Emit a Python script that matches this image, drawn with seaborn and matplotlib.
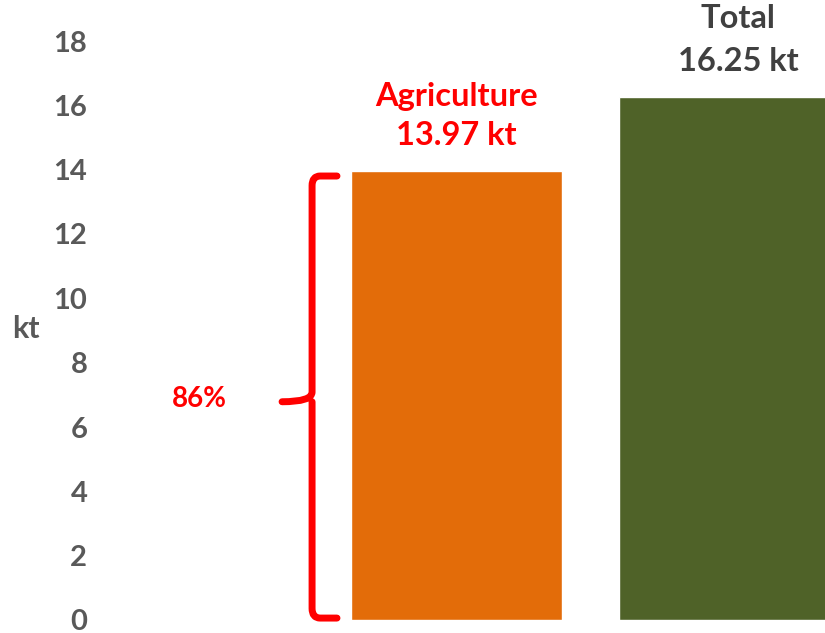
import matplotlib
matplotlib.use("Agg")
import matplotlib.pyplot as plt
import seaborn as sns
import pandas as pd
from matplotlib.path import Path
from matplotlib.patches import PathPatch

categories = ["Agriculture", "Total"]
values = [13.97, 16.25]
colors = ["#E36C09", "#4F6228"]
label_colors = ["#FF0000", "#404040"]
share_label = "86%"
y_ticks = [0, 2, 4, 6, 8, 10, 12, 14, 16, 18]

sns.set_theme(style="white")
plt.rcParams["font.family"] = ["Lato", "DejaVu Sans"]

W, H = 825, 633
fig = plt.figure(figsize=(W / 100, H / 100), dpi=100)
left_px, right_px = 95, 825
bottom_px, top_px = 620, 41
ax = fig.add_axes([left_px / W, (H - bottom_px) / H,
                   (right_px - left_px) / W, (bottom_px - top_px) / H])

df = pd.DataFrame({"cat": categories, "val": values})
sns.barplot(data=df, x="cat", y="val", hue="cat", palette=colors,
            legend=False, width=0.787, saturation=1, ax=ax)

ax.set_ylim(0, 18)
ax.set_xlim(-1.349, 1.375)
ax.set_yticks(y_ticks)
ax.set_yticklabels([str(t) for t in y_ticks], fontsize=21, fontweight="bold",
                   color="#595959")
ax.tick_params(axis="y", length=0, pad=5.5)
ax.set_xticks([])
ax.set_xlabel("")
ax.set_ylabel("kt", fontsize=22, fontweight="bold", color="#595959",
              rotation=0, labelpad=0, ha="center", va="center")
ax.yaxis.set_label_coords(-0.0945, 0.502)
for s in ax.spines.values():
    s.set_visible(False)

# value labels (two lines each)
fs = 23.5
ax.text(0, values[0] + 2.32, categories[0], ha="center", va="center",
        fontsize=fs, fontweight="bold", color=label_colors[0], clip_on=False)
ax.text(0, values[0] + 1.08, f"{values[0]:.2f} kt", ha="center", va="center",
        fontsize=fs, fontweight="bold", color=label_colors[0], clip_on=False)
ax.text(1.05, values[1] + 2.45, categories[1], ha="center", va="center",
        fontsize=fs, fontweight="bold", color=label_colors[1], clip_on=False)
ax.text(1.05, values[1] + 1.12, f"{values[1]:.2f} kt", ha="center", va="center",
        fontsize=fs, fontweight="bold", color=label_colors[1], clip_on=False)

# bracket
top = values[0] * 0.988
bot = 0.06
mid = values[0] / 2 - 0.2
xv, xr, xl = -0.539, -0.446, -0.651
r = 0.3
verts = [(xr, top), (xv + 0.03, top), (xv, top), (xv, top - r),
         (xv, mid + r), (xv, mid), (xl, mid),
         (xv, mid), (xv, mid - r),
         (xv, bot + r), (xv, bot), (xv + 0.03, bot), (xr, bot)]
codes = [Path.MOVETO, Path.LINETO, Path.CURVE3, Path.CURVE3,
         Path.LINETO, Path.CURVE3, Path.CURVE3,
         Path.MOVETO, Path.LINETO,
         Path.LINETO, Path.CURVE3, Path.CURVE3, Path.LINETO]
patch = PathPatch(Path(verts, codes), facecolor="none", edgecolor="#FF0000",
                  lw=5, capstyle="round", joinstyle="round", clip_on=False)
ax.add_patch(patch)

ax.text(-0.96, mid + 0.1, share_label, ha="center", va="center", fontsize=20,
        fontweight="bold", color="#FF0000")

fig.savefig("out.png", dpi=100)
